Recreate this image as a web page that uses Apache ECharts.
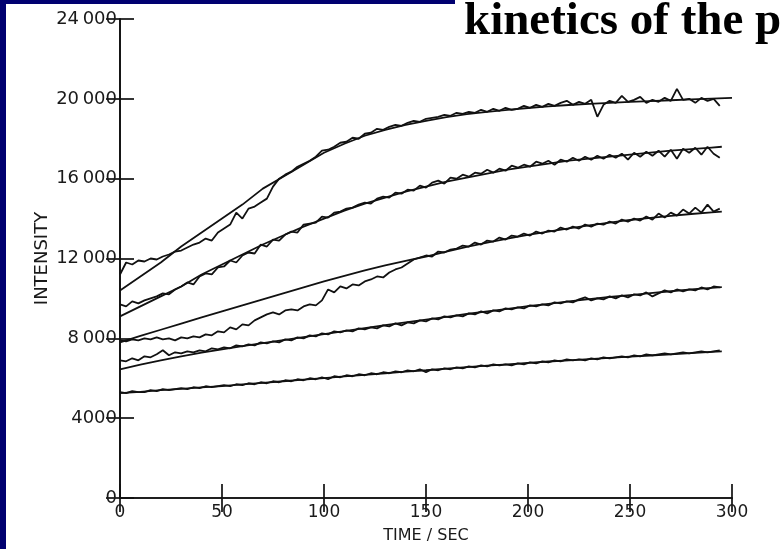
<!DOCTYPE html>
<html>
<head>
<meta charset="utf-8">
<script src="https://cdn.jsdelivr.net/npm/echarts@6/dist/echarts.min.js"></script>
<style>
html,body{margin:0;padding:0;background:#fff;}
#c{width:783px;height:549px;}
</style>
</head>
<body>
<div id="c"></div>
<script>
// ---- data ----
const xTickLabels = ['0','50','100','150','200','250','300'];
const yTickLabels = ['0','4000','8\u2009000','12\u2009000','16\u2009000','20\u2009000','24\u2009000'];

const noisyTime = [0,3,6,9,12,15,18,21,24,27,30,33,36,39,42,45,48,51,54,57,60,63,66,69,72,75,78,81,84,87,
  90,93,96,99,102,105,108,111,114,117,120,123,126,129,132,135,138,141,144,147,150,153,156,159,162,165,168,171,174,177,
  180,183,186,189,192,195,198,201,204,207,210,213,216,219,222,225,228,231,234,237,240,243,246,249,252,255,258,261,264,267,
  270,273,276,279,282,285,288,291,294];

const fitTimeTop = [0,10,20,30,40,50,60,70,80,90,100,110,120,130,140,150,160,170,180,190,200,210,220,230,240,250,260,270,280,290,300];
const fitTime = [0,10,20,30,40,50,60,70,80,90,100,110,120,130,140,150,160,170,180,190,200,210,220,230,240,250,260,270,280,290,295];

const noisyA = [11200,11800,11700,11900,11850,12000,11950,12100,12200,12350,
  12400,12550,12700,12800,13000,12900,13300,13500,13700,14300,
  14000,14500,14600,14800,15000,15600,16000,16200,16350,16600,
  16750,16900,17100,17400,17450,17600,17800,17850,18050,18000,
  18250,18300,18500,18450,18600,18700,18650,18800,18900,18850,
  19000,19050,19100,19200,19150,19300,19250,19350,19300,19450,
  19350,19500,19400,19550,19450,19500,19650,19550,19700,19600,
  19750,19650,19800,19900,19700,19850,19750,19950,19100,19700,
  19900,19800,20150,19850,19950,20100,19800,19950,19850,20050,
  19900,20500,19950,20000,19800,20050,19900,20000,19650];
const noisyB = [9700,9600,9850,9750,9900,10000,10100,10250,10200,10450,
  10600,10800,10700,11100,11250,11200,11550,11600,11900,11800,
  12150,12300,12250,12700,12600,12950,12900,13200,13350,13300,
  13700,13750,13800,14100,14050,14300,14350,14500,14550,14700,
  14800,14750,15000,15100,15050,15300,15250,15450,15400,15650,
  15550,15800,15900,15750,16050,16000,16200,16100,16300,16250,
  16450,16300,16500,16400,16650,16550,16700,16600,16850,16750,
  16900,16700,16950,16850,17050,16900,17100,16950,17150,17000,
  17200,17050,17250,16950,17300,17100,17350,17150,17400,17100,
  17450,17000,17500,17300,17550,17200,17600,17250,17050];
const noisyC = [7900,7850,7950,7900,8000,7950,8050,7950,8000,7900,
  8050,8000,8100,8050,8200,8150,8350,8300,8550,8450,
  8700,8650,8900,9050,9200,9300,9200,9400,9450,9400,
  9600,9700,9650,9900,10450,10300,10600,10500,10700,10650,
  10850,10950,11100,11050,11300,11450,11550,11750,11950,12050,
  12150,12100,12350,12300,12450,12500,12650,12600,12800,12700,
  12900,12850,13050,12950,13150,13100,13250,13150,13350,13250,
  13400,13350,13550,13450,13600,13500,13700,13600,13750,13700,
  13850,13750,13950,13850,14000,13900,14100,13950,14250,14050,
  14300,14150,14450,14250,14550,14300,14700,14350,14500];
const noisyD = [6900,6850,7000,6900,7100,7050,7200,7400,7150,7300,
  7250,7350,7300,7400,7350,7500,7450,7550,7500,7650,
  7600,7700,7650,7800,7750,7850,7800,7950,7900,8050,
  8000,8150,8100,8250,8200,8350,8300,8400,8350,8500,
  8450,8550,8500,8650,8600,8750,8650,8800,8750,8900,
  8850,9000,8950,9100,9050,9150,9100,9250,9200,9350,
  9250,9400,9350,9500,9450,9550,9500,9650,9600,9700,
  9650,9800,9750,9850,9800,9950,10050,9900,10000,9950,
  10100,10000,10150,10050,10200,10150,10300,10100,10250,10400,
  10300,10450,10350,10450,10400,10550,10450,10600,10550];
const noisyE = [5300,5250,5350,5300,5300,5400,5350,5450,5400,5450,
  5500,5450,5550,5500,5600,5550,5600,5650,5600,5700,
  5650,5750,5700,5800,5750,5850,5800,5900,5850,5950,
  5900,6000,5950,6050,5950,6100,6050,6150,6100,6200,
  6150,6250,6200,6300,6250,6350,6300,6400,6350,6450,
  6300,6450,6400,6500,6450,6550,6500,6600,6550,6650,
  6600,6700,6650,6700,6650,6750,6700,6800,6750,6850,
  6800,6900,6850,6950,6900,6950,6900,7000,6950,7050,
  7000,7050,7100,7050,7150,7100,7200,7150,7200,7250,
  7200,7250,7300,7250,7300,7350,7300,7350,7400];

const fitA = [10400,11100,11800,12600,13300,14000,14700,15500,16100,16700,17300,17750,18150,18450,18700,18900,19080,19230,19350,19450,19540,19620,19690,19750,19800,19850,19890,19930,19970,20010,20050];
const fitB = [9100,9600,10100,10600,11200,11700,12200,12700,13150,13600,14000,14400,14750,15050,15350,15600,15850,16050,16250,16450,16600,16750,16900,17000,17100,17200,17300,17400,17480,17560,17600];
const fitC = [7800,8120,8430,8740,9050,9350,9650,9950,10250,10550,10850,11130,11400,11650,11880,12100,12350,12580,12800,13000,13180,13350,13510,13660,13800,13930,14040,14140,14230,14310,14350];
const fitD = [6450,6680,6900,7100,7280,7450,7610,7760,7910,8060,8210,8360,8510,8660,8800,8940,9080,9220,9350,9480,9610,9730,9850,9960,10070,10170,10270,10360,10450,10530,10570];
const fitE = [5250,5320,5400,5470,5540,5610,5690,5770,5850,5930,6010,6090,6170,6250,6330,6400,6480,6560,6630,6700,6770,6840,6900,6960,7020,7080,7140,7200,7260,7320,7350];

// ---- build ----
function pairs(t, v){ return v.map((y,i)=>[t[i], y]); }
const INK = '#111111';
const FONT = 'DejaVu Sans';
function lineSeries(name, t, v, w){
  return {name, type:'line', data:pairs(t,v), showSymbol:false, symbol:'none', smooth:false,
    lineStyle:{color:INK, width:w}, itemStyle:{color:INK}, silent:true, animation:false};
}
const axLine = {show:true, lineStyle:{color:INK, width:1.7}};
const axTick = {show:true, inside:true, length:14, lineStyle:{color:INK, width:1.7}};

const option = {
  backgroundColor:'#ffffff',
  animation:false,
  grid:{left:120, right:51, top:19, bottom:50, containLabel:false},
  xAxis:[
    {type:'value', min:0, max:300, interval:50, position:'bottom',
     name:'TIME / SEC', nameLocation:'middle', nameGap:30, nameMoveOverlap:false,
     nameTextStyle:{fontFamily:FONT, fontSize:16, color:'#1a1a1a'},
     axisLine:axLine, axisTick:axTick, splitLine:{show:false},
     axisLabel:{fontFamily:FONT, fontSize:17, color:'#1a1a1a', margin:6,
       formatter:(v)=>xTickLabels[Math.round(v/50)]}},
    {type:'value', min:0, max:300, interval:50, position:'top',
     axisLine:axLine, axisTick:axTick, splitLine:{show:false}, axisLabel:{show:false}}
  ],
  yAxis:[
    {type:'value', min:0, max:24000, interval:4000, position:'left',
     name:'INTENSITY', nameLocation:'middle', nameGap:69, nameRotate:90, nameMoveOverlap:false,
     nameTextStyle:{fontFamily:FONT, fontSize:18, color:'#1a1a1a'},
     axisLine:axLine, axisTick:axTick, splitLine:{show:false},
     axisLabel:{fontFamily:FONT, fontSize:18, color:'#1a1a1a', margin:3,
       formatter:(v)=>yTickLabels[Math.round(v/4000)]}},
    {type:'value', min:0, max:24000, interval:4000, position:'right',
     axisLine:axLine, axisTick:axTick, splitLine:{show:false}, axisLabel:{show:false}}
  ],
  series:[
    lineSeries('A data', noisyTime, noisyA, 1.8),
    lineSeries('B data', noisyTime, noisyB, 1.8),
    lineSeries('C data', noisyTime, noisyC, 1.8),
    lineSeries('D data', noisyTime, noisyD, 1.8),
    lineSeries('E data', noisyTime, noisyE, 1.8),
    lineSeries('A fit', fitTimeTop, fitA, 1.8),
    lineSeries('B fit', fitTime, fitB, 1.8),
    lineSeries('C fit', fitTime, fitC, 1.8),
    lineSeries('D fit', fitTime, fitD, 1.8),
    lineSeries('E fit', fitTime, fitE, 1.8)
  ],
  graphic:[
    {type:'rect', z:100, shape:{x:456, y:0, width:327, height:48}, style:{fill:'#ffffff'}},
    {type:'text', z:101, x:464, y:-2, style:{text:'kinetics of the p', font:'bold 47px "Liberation Serif"', fill:'#000', textVerticalAlign:'top'}},
    {type:'rect', z:102, shape:{x:0, y:0, width:6, height:549}, style:{fill:'#000070'}},
    {type:'rect', z:102, shape:{x:0, y:0, width:455, height:4}, style:{fill:'#000070'}}
  ]
};
const chart = echarts.init(document.getElementById('c'));
chart.setOption(option);
</script>
</body>
</html>
